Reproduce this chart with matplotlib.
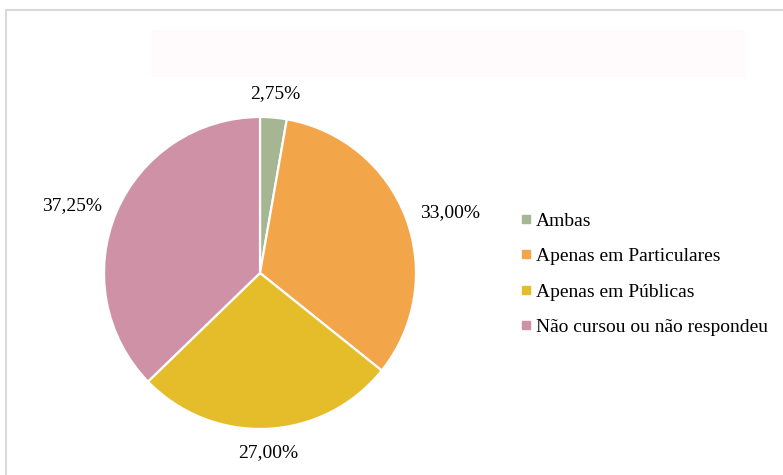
import numpy as np
import matplotlib
matplotlib.use('Agg')
import matplotlib.pyplot as plt
from matplotlib.lines import Line2D
from matplotlib.patches import Rectangle

# Data:
lstCat = ['Ambas',
          'Apenas em Particulares',
          'Apenas em Públicas',
          'Não cursou ou não respondeu']
vecVal = np.array([2.75, 33.00, 27.00, 37.25])
lstClr = ['#A6B592', '#F3A54A', '#E5BD2A', '#CF91A6']

# Font:
strFont = 'Liberation Serif'
varFntSz = 14.0

fig01 = plt.figure(figsize=(7.83, 4.75), dpi=100, facecolor='w')

# Frame lines (top and left) of the chart area:
fig01.add_artist(Line2D([6 / 783.0, 1.0], [1 - 10 / 475.0, 1 - 10 / 475.0],
                        transform=fig01.transFigure, color='#D9D9D9',
                        linewidth=1.5))
fig01.add_artist(Line2D([6 / 783.0, 6 / 783.0], [0.0, 1 - 10 / 475.0],
                        transform=fig01.transFigure, color='#D9D9D9',
                        linewidth=1.5))

# Empty title placeholder (very faint):
fig01.add_artist(Rectangle((152 / 783.0, 1 - 77 / 475.0),
                           (745 - 152) / 783.0, (77 - 30) / 475.0,
                           transform=fig01.transFigure,
                           facecolor='#FFFBFD', edgecolor='none'))

# Pie axis (centre at 260, 273 px, radius 156 px):
varCx, varCy, varR = 260.0, 273.0, 156.0
axsPie = fig01.add_axes([(varCx - varR) / 783.0,
                         (475.0 - varCy - varR) / 475.0,
                         2 * varR / 783.0,
                         2 * varR / 475.0])

lstWdg, _ = axsPie.pie(vecVal,
                       colors=lstClr,
                       startangle=90,
                       counterclock=False,
                       radius=1.0,
                       wedgeprops=dict(edgecolor='w', linewidth=1.6))
axsPie.set_xlim(-1.0, 1.0)
axsPie.set_ylim(-1.0, 1.0)
axsPie.axis('off')

# Data labels, just outside the slices:
varLblDst = 1.1
for objWdg, varVal in zip(lstWdg, vecVal):
    varAng = np.deg2rad(0.5 * (objWdg.theta1 + objWdg.theta2))
    varCos = np.cos(varAng)
    varSin = np.sin(varAng)
    if varCos > 0.5:
        strHa = 'left'
    elif varCos < -0.5:
        strHa = 'right'
    else:
        strHa = 'center'
    if varSin > 0.5:
        strVa = 'bottom'
    elif varSin < -0.5:
        strVa = 'top'
    else:
        strVa = 'center'
    strLbl = ('%.2f%%' % varVal).replace('.', ',')
    axsPie.text(varLblDst * varCos, varLblDst * varSin, strLbl,
                ha=strHa, va=strVa, fontname=strFont, fontsize=varFntSz,
                color='#000000', clip_on=False)

# Legend:
lstHnd = [Line2D([0], [0], linestyle='none', marker='s', markersize=5.5,
                 markerfacecolor=c, markeredgecolor=c) for c in lstClr]
objLgd = fig01.legend(lstHnd, lstCat,
                      loc='center left',
                      bbox_to_anchor=(520 / 783.0, 1 - 274 / 475.0),
                      frameon=False,
                      handlelength=0.6,
                      handletextpad=0.22,
                      labelspacing=0.92,
                      borderpad=0.0,
                      borderaxespad=0.0,
                      prop=dict(family=strFont, size=varFntSz))

fig01.savefig('out.png', dpi=100, facecolor='w')
